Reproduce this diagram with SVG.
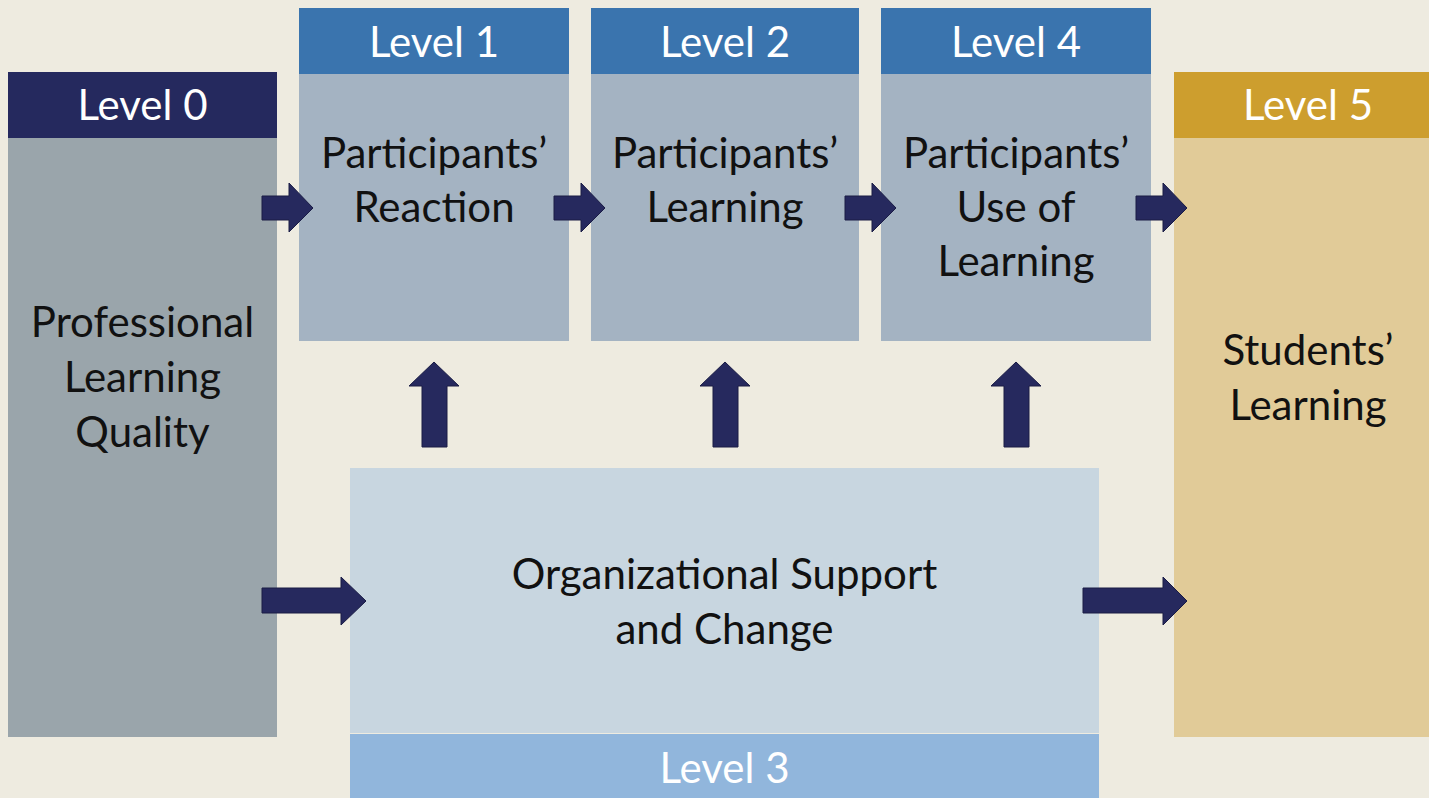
<svg xmlns="http://www.w3.org/2000/svg" width="1429" height="798" viewBox="0 0 1429 798">
<style>
text{font-family:Lato,"Open Sans","Noto Sans",sans-serif;font-size:42px;text-anchor:middle}
.hd{fill:#ffffff}
.bd{fill:#111111}
.arr{fill:#26295e;stroke:#1a1c45;stroke-width:1}
</style>
<defs>
<path id="ra" d="M0,-12 H27 V-25 L51,0 L27,24 V12 H0 Z"/>
</defs>
<rect x="0" y="0" width="1429" height="798" fill="#eeebe0"/>
<g id="level0">
<rect x="8" y="138" width="269" height="599" fill="#9aa5ab"/>
<rect x="8" y="72" width="269" height="66" fill="#25295e"/>
<text class="hd" x="142.5" y="120">Level 0</text>
<text class="bd" x="142.5" y="337">Professional</text>
<text class="bd" x="142.5" y="392">Learning</text>
<text class="bd" x="142.5" y="447">Quality</text>
</g>
<g id="level1">
<rect x="299" y="74" width="270" height="267" fill="#a4b3c2"/>
<rect x="299" y="8" width="270" height="66" fill="#3a74ae"/>
<text class="hd" x="434" y="57">Level 1</text>
<text class="bd" x="434" y="168">Participants’</text>
<text class="bd" x="434" y="222">Reaction</text>
</g>
<g id="level2">
<rect x="591" y="74" width="268" height="267" fill="#a4b3c2"/>
<rect x="591" y="8" width="268" height="66" fill="#3a74ae"/>
<text class="hd" x="725" y="57">Level 2</text>
<text class="bd" x="725" y="168">Participants’</text>
<text class="bd" x="725" y="222">Learning</text>
</g>
<g id="level4">
<rect x="881" y="74" width="270" height="267" fill="#a4b3c2"/>
<rect x="881" y="8" width="270" height="66" fill="#3a74ae"/>
<text class="hd" x="1016" y="57">Level 4</text>
<text class="bd" x="1016" y="168">Participants’</text>
<text class="bd" x="1016" y="222">Use of</text>
<text class="bd" x="1016" y="276">Learning</text>
</g>
<g id="level5">
<rect x="1174" y="138" width="255" height="599" fill="#e1cb98"/>
<rect x="1174" y="72" width="255" height="66" fill="#cd9e2e"/>
<text class="hd" x="1308" y="120">Level 5</text>
<text class="bd" x="1308" y="365">Students’</text>
<text class="bd" x="1308" y="420">Learning</text>
</g>
<g id="level3">
<rect x="350" y="468" width="749" height="265" fill="#c8d6e0"/>
<rect x="350" y="734" width="749" height="64" fill="#91b6dc"/>
<text class="bd" x="724.5" y="589">Organizational Support</text>
<text class="bd" x="724.5" y="644">and Change</text>
<text class="hd" x="724.5" y="783">Level 3</text>
</g>
<g id="connectors">
<use href="#ra" class="arr" transform="translate(262,208)"/>
<use href="#ra" class="arr" transform="translate(554,208)"/>
<use href="#ra" class="arr" transform="translate(845,208)"/>
<use href="#ra" class="arr" transform="translate(1136,208)"/>
<path class="arr" d="M262,588 H341 V577 L366,601 L341,625 V613 H262 Z"/>
<path class="arr" d="M1083,588 H1163 V577 L1187,601 L1163,625 V613 H1083 Z"/>
<path class="arr" d="M422,447 V386 H409 L434,362 L459,386 H447 V447 Z"/>
<path class="arr" d="M713,447 V386 H700 L725,362 L750,386 H738 V447 Z"/>
<path class="arr" d="M1004,447 V386 H991 L1016,362 L1041,386 H1029 V447 Z"/>
</g>
</svg>
